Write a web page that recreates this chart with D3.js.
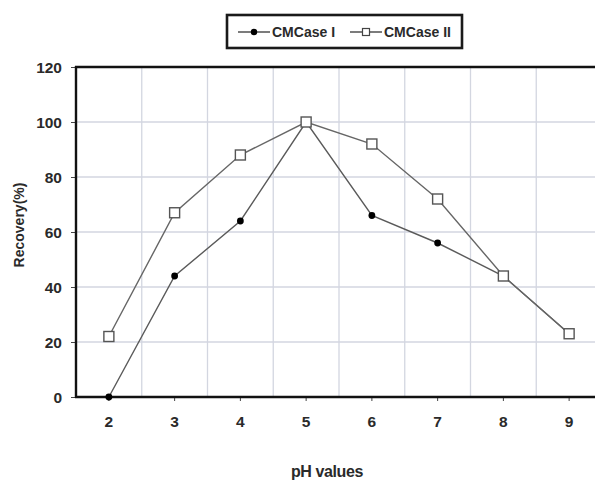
<!DOCTYPE html>
<html><head><meta charset="utf-8">
<script src="https://cdn.jsdelivr.net/npm/d3@7"></script>
<style>body{margin:0;background:#fff}svg{display:block}</style>
</head><body>
<script>
const categories = ["2","3","4","5","6","7","8","9"];
const seriesNames = ["CMCase I","CMCase II"];
const caseI = [0,44,64,100,66,56,44,23];
const caseII = [22,67,88,100,92,72,44,23];
const yTicks = [0,20,40,60,80,100,120];

(function(){
const W=595,H=483;
const svg=d3.select("body").append("svg").attr("width",W).attr("height",H);
const pL=76, pT=67, pB=397, pR=602;
const x=d3.scaleBand().domain(categories).range([pL,pR]);
const y=d3.scaleLinear().domain([0,120]).range([pB,pT]);
const font="'Liberation Sans', Arial, sans-serif";
const grid="#d3d6e0";
const txt="#2a2a2a";

// grid
svg.append("g").selectAll("line").data(yTicks.slice(1,-1)).join("line")
  .attr("x1",pL).attr("x2",pR).attr("y1",d=>y(d)).attr("y2",d=>y(d))
  .attr("stroke",grid).attr("stroke-width",1.3);
svg.append("g").selectAll("line").data(categories.slice(1)).join("line")
  .attr("x1",d=>x(d)).attr("x2",d=>x(d)).attr("y1",pT).attr("y2",pB)
  .attr("stroke",grid).attr("stroke-width",1.3);

// axes
const yAxis=svg.append("g").attr("transform",`translate(${pL},0)`)
  .call(d3.axisLeft(y).tickValues(yTicks).tickSize(5).tickPadding(9));
const xAxis=svg.append("g").attr("transform",`translate(0,${pB})`)
  .call(d3.axisBottom(x).tickSize(4).tickPadding(15));
[yAxis,xAxis].forEach(a=>{
  a.select(".domain").remove();
  a.selectAll("line").attr("stroke","#444");
  a.selectAll("text").attr("font-family",font).attr("font-weight","bold").attr("font-size",15.5).attr("fill",txt);
});
yAxis.selectAll("text").attr("dy","0.36em");
svg.append("line").attr("x1",pL).attr("x2",pL).attr("y1",pT-1).attr("y2",pB+1).attr("stroke","#111").attr("stroke-width",2.4);
svg.append("line").attr("x1",pL-1).attr("x2",pR).attr("y1",pB).attr("y2",pB).attr("stroke","#111").attr("stroke-width",2.4);
svg.append("line").attr("x1",pL-1).attr("x2",pR).attr("y1",pT).attr("y2",pT).attr("stroke","#111").attr("stroke-width",2.4);

// lines
const cx=d=>x(d)+x.bandwidth()/2;
const line=d3.line().x((d,i)=>cx(categories[i])).y(d=>y(d));
svg.append("path").datum(caseI).attr("d",line).attr("fill","none").attr("stroke","#5a5a5a").attr("stroke-width",1.4);
svg.append("path").datum(caseII).attr("d",line).attr("fill","none").attr("stroke","#666").attr("stroke-width",1.4);
svg.append("g").selectAll("circle").data(caseI).join("circle")
  .attr("cx",(d,i)=>cx(categories[i])).attr("cy",d=>y(d)).attr("r",3.4).attr("fill","#000");
svg.append("g").selectAll("rect").data(caseII).join("rect")
  .attr("x",(d,i)=>cx(categories[i])-5).attr("y",d=>y(d)-5).attr("width",10).attr("height",10)
  .attr("fill","#fff").attr("stroke","#555").attr("stroke-width",1.4);

// axis titles
svg.append("text").attr("transform",`translate(24,225) rotate(-90)`)
  .attr("text-anchor","middle").attr("font-family",font).attr("font-weight","bold").attr("font-size",14).attr("fill",txt)
  .text("Recovery(%)");
svg.append("text").attr("x",327).attr("y",477).attr("text-anchor","middle")
  .attr("font-family",font).attr("font-weight","bold").attr("font-size",16).attr("letter-spacing","-0.4").attr("fill",txt).text("pH values");

// legend
const lg=svg.append("g");
lg.append("rect").attr("x",227).attr("y",15).attr("width",235).attr("height",33).attr("fill","#fff").attr("stroke","#1a1a1a").attr("stroke-width",2.6);
lg.append("line").attr("x1",238).attr("x2",270).attr("y1",32).attr("y2",32).attr("stroke","#444").attr("stroke-width",1.4);
lg.append("circle").attr("cx",254).attr("cy",32).attr("r",3.2).attr("fill","#000");
lg.append("text").attr("x",272).attr("y",37).attr("font-family",font).attr("font-weight","bold").attr("font-size",14).attr("fill",txt).text(seriesNames[0]);
lg.append("line").attr("x1",350).attr("x2",382).attr("y1",32).attr("y2",32).attr("stroke","#444").attr("stroke-width",1.4);
lg.append("rect").attr("x",362.5).attr("y",28.5).attr("width",7).attr("height",7).attr("fill","#fff").attr("stroke","#444").attr("stroke-width",1.2);
lg.append("text").attr("x",384).attr("y",37).attr("font-family",font).attr("font-weight","bold").attr("font-size",14).attr("fill",txt).text(seriesNames[1]);
})();
</script>
</body></html>
